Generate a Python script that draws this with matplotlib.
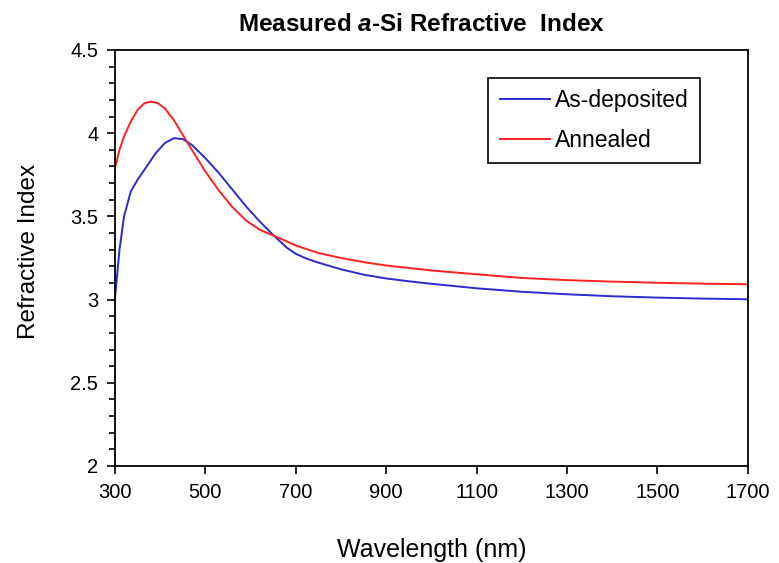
import numpy as np
import matplotlib
matplotlib.use("Agg")
import matplotlib.pyplot as plt
from matplotlib.ticker import MultipleLocator, FormatStrFormatter

plt.rcParams['font.family'] = ['Liberation Sans', 'DejaVu Sans']
plt.rcParams['mathtext.fontset'] = 'custom'
plt.rcParams['mathtext.it'] = 'Liberation Sans:bold:italic'
plt.rcParams['mathtext.rm'] = 'Liberation Sans:bold'

# wavelength (nm) and refractive index
wl_dep = [300, 310, 320, 335, 350, 370, 390, 410, 430, 450, 470, 500, 530,
          560, 590, 620, 650, 680, 700, 725, 750, 800, 850, 900, 950, 1000,
          1100, 1200, 1300, 1400, 1500, 1600, 1700]
n_dep = [3.01, 3.30, 3.50, 3.65, 3.72, 3.80, 3.88, 3.94, 3.97, 3.965, 3.93,
         3.85, 3.76, 3.66, 3.56, 3.47, 3.388, 3.312, 3.275, 3.245, 3.222,
         3.182, 3.150, 3.127, 3.11, 3.095, 3.068, 3.047, 3.032, 3.02, 3.012,
         3.006, 3.002]

wl_ann = [300, 310, 320, 335, 350, 365, 380, 395, 410, 430, 450, 470, 500,
          530, 560, 590, 620, 650, 680, 700, 750, 800, 850, 900, 950, 1000,
          1100, 1200, 1300, 1400, 1500, 1600, 1700]
n_ann = [3.79, 3.90, 3.98, 4.07, 4.14, 4.18, 4.19, 4.18, 4.15, 4.08, 3.99,
         3.90, 3.77, 3.655, 3.555, 3.475, 3.42, 3.385, 3.35, 3.325, 3.28,
         3.25, 3.225, 3.205, 3.19, 3.175, 3.152, 3.13, 3.117, 3.108, 3.101,
         3.096, 3.092]

x_ticks = [300, 500, 700, 900, 1100, 1300, 1500, 1700]

fig = plt.figure(figsize=(7.79, 5.63), dpi=100)
ax = fig.add_axes([0.1476, 0.1723, 0.8124, 0.7389])

ax.plot(wl_dep, n_dep, color='#2b2bd0', lw=1.4, label='As-deposited')
ax.plot(wl_ann, n_ann, color='#ff2020', lw=1.4, label='Annealed')

ax.set_xlim(300, 1700)
ax.set_ylim(2, 4.5)
ax.set_xticks(x_ticks)
ax.yaxis.set_major_locator(MultipleLocator(0.5))
ax.yaxis.set_minor_locator(MultipleLocator(0.1))
ax.yaxis.set_major_formatter(FormatStrFormatter('%g'))
ax.tick_params(axis='both', which='major', direction='out', length=6,
               width=1.2, labelsize=14.5, pad=6)
ax.tick_params(axis='y', which='minor', direction='out', length=4, width=1.2)
for s in ax.spines.values():
    s.set_linewidth(1.3)
    s.set_color('black')

ax.set_xlabel('Wavelength (nm)', fontsize=18, labelpad=26)
ax.set_ylabel('Refractive Index', fontsize=17.5)
ax.yaxis.set_label_coords(-0.119, 0.516)
ax.set_title(r'Measured $a$-Si Refractive  Index', fontsize=17.5,
             fontweight='bold', pad=14, x=0.485)

leg = ax.legend(loc='upper right', bbox_to_anchor=(0.924, 0.933),
                borderaxespad=0, fontsize=16.5,
                fancybox=False, framealpha=1, edgecolor='black',
                handlelength=2.2, handletextpad=0.2, borderpad=0.5,
                labelspacing=0.72)
leg.get_frame().set_linewidth(1.2)

fig.savefig('out.png', dpi=100)
